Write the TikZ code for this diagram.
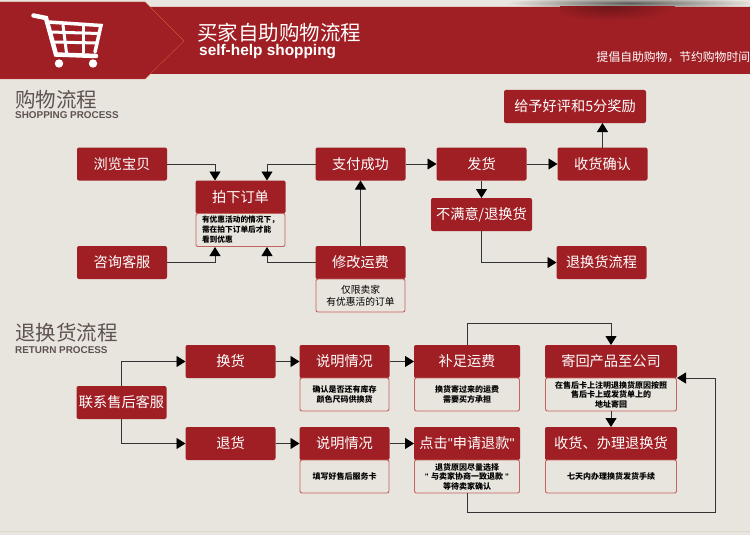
\documentclass[tikz,border=0pt]{standalone}
\usepackage{fontspec}
\setmainfont{Noto Sans CJK SC}
\newfontfamily\latinfont{Liberation Sans}
\usetikzlibrary{arrows.meta, positioning}
\definecolor{pagebg}{HTML}{E8E4DE}
\definecolor{bandred}{HTML}{A01F24}
\definecolor{noteedge}{HTML}{C4645E}
\definecolor{headgray}{HTML}{5F5350}
\definecolor{edgeorange}{HTML}{C8553A}
\definecolor{footline}{HTML}{DDD6CE}
\pgfdeclareradialshading{softgray}{\pgfpoint{0bp}{0bp}}{color(0bp)=(black!60!pagebg); color(25bp)=(pagebg); color(50bp)=(pagebg)}
\pgfdeclareradialshading{softred}{\pgfpoint{0bp}{0bp}}{color(0bp)=(bandred!70!black); color(25bp)=(bandred); color(50bp)=(bandred)}

\begin{document}
\begin{tikzpicture}[
  x=1pt, y=-1pt,
  box/.style={fill=bandred, rounded corners=2pt, minimum width=90pt, minimum height=33pt, inner sep=0pt, outer sep=0pt, align=center, text=white, font=\fontsize{14.2}{16}\selectfont},
  note/.style={draw=noteedge, line width=0.9pt, fill=pagebg, rounded corners=2pt, minimum width=89pt, minimum height=33pt, inner sep=0pt, outer sep=0pt, align=center, text=black, font=\bfseries\fontsize{8}{9.5}\selectfont},
  head/.style={inner sep=0pt, anchor=west, text=headgray, font=\fontsize{20.5}{22}\selectfont},
  subhead/.style={inner sep=0pt, anchor=west, text=headgray, font=\latinfont\bfseries\fontsize{9.9}{11}\selectfont},
  line/.style={draw=black!80, line width=0.9pt, -{Triangle[length=9pt, width=11pt, color=black]}},
  cart/.style={draw=white, line cap=round}
]
\useasboundingbox (0,0) rectangle (750,535);
\fill[pagebg] (0,0) rectangle (750,535);
\clip (0,0) rectangle (750,535);
\draw[footline] (0,531.5) -- (750,531.5);

\shade[shading=softgray] (630,3) ellipse (125 and 6);
\fill[bandred] (0,2) -- (145,2) -- (150,7) -- (750,7) -- (750,74) -- (150,74) -- (145,79) -- (0,79) -- cycle;
\begin{scope}
  \clip (560,7) rectangle (750,30);
  \shade[shading=softred] (610,7) ellipse (65 and 14);
\end{scope}
\draw[edgeorange, line width=0.4pt] (0,2) -- (145,2) -- (184,41) -- (145,79) -- (0,79);

\draw[cart, line width=4.5pt] (33.5,15.5) -- (46,18) -- (56,54.5) -- (96,56);
\draw[cart, line width=3.5pt] (48,22) -- (101,25.5) -- (95,52);
\draw[cart, line width=3pt] (50.5,32) -- (99,33.5);
\draw[cart, line width=3pt] (53,42) -- (97,43);
\draw[cart, line width=3pt] (63,25) -- (66.5,53);
\draw[cart, line width=3pt] (83,26.5) -- (83,53);
\fill[white] (59,63.5) circle (4.2);
\fill[white] (93,63.5) circle (4.2);

\node[inner sep=0pt, anchor=west, text=white, font=\fontsize{20.5}{22}\selectfont] (title) at (197,33) {买家自助购物流程};
\node[inner sep=0pt, anchor=west, text=white, font=\latinfont\bfseries\fontsize{15.4}{17}\selectfont] (titlelat) at (199,52) {self-help shopping};
\node[inner sep=0pt, anchor=west, text=white, font=\fontsize{11.8}{14}\selectfont] (slogan) at (596.5,57.5) {提倡自助购物，节约购物时间};

\node[head] (shophead) at (15,100) {购物流程};
\node[subhead] (shopsub) at (15,115) {SHOPPING PROCESS};
\node[head] (rethead) at (15,332.5) {退换货流程};
\node[subhead] (retsub) at (15,350) {RETURN PROCESS};

\node[box] (browse)  at (122,164) {浏览宝贝};
\node[box] (consult) at (122,262.5) {咨询客服};
\node[box] (buy)     at (240.5,197) {拍下订单};
\node[note, below=0pt of buy, align=left, font=\bfseries\fontsize{7.7}{10}\selectfont] (buynote) {有优惠活动的情况下，\\需在拍下订单后才能\\看到优惠};
\node[box] (pay)     at (360.5,164) {支付成功};
\node[box] (fee)     at (360.5,262.5) {修改运费};
\node[note, below=0pt of fee, font=\fontsize{9.75}{12}\selectfont] (feenote) {仅限卖家\\有优惠活的订单};
\node[box, right=31pt of pay]  (ship) {发货};
\node[box, right=31pt of ship] (recv) {收货确认};
\node[box, minimum width=142pt] (rate) at (575,106.5) {给予好评和5分奖励};
\node[box, minimum width=101pt] (unhappy) at (481.5,214.5) {不满意/退换货};
\node[box] (retproc) at (601.5,262.5) {退换货流程};

\node[box] (contact) at (121.5,402.5) {联系售后客服};
\node[box] (swap)    at (230.5,361.5) {换货};
\node[box, right=24pt of swap] (explswap) {说明情况};
\node[note, below=0pt of explswap] (explswapnote) {确认是否还有库存\\颜色尺码供换货};
\node[box, minimum width=106pt] (topup) at (467,361.5) {补足运费};
\node[note, minimum width=105pt, below=0pt of topup] (topupnote) {换货寄过来的运费\\需要买方承担};
\node[box, minimum width=132pt] (mail) at (611,361.5) {寄回产品至公司};
\node[note, minimum width=131pt, below=0pt of mail] (mailnote) {在售后卡上注明退换货原因按照\\售后卡上或发货单上的\\地址寄回};
\node[box] (refund)  at (230.5,443.5) {退货};
\node[box, right=24pt of refund] (explref) {说明情况};
\node[note, below=0pt of explref] (explrefnote) {填写好售后服务卡};
\node[box, minimum width=106pt] (click) at (467,443.5) {点击{\latinfont"}申请退款{\latinfont"}};
\node[note, minimum width=105pt, below=0pt of click] (clicknote) {退货原因尽量选择\\{\latinfont" }与卖家协商一致退款{\latinfont{} "}\\等待卖家确认};
\node[box, minimum width=132pt] (done) at (611,443.5) {收货、办理退换货};
\node[note, minimum width=131pt, below=0pt of done] (donenote) {七天内办理换货发货手续};

\coordinate (buyleft) at (215,180.5);
\coordinate (buyright) at (267,180.5);
\coordinate (noteleft) at (215,247);
\coordinate (noteright) at (267,247);
\coordinate (mailtop) at (611,323);
\coordinate (loopcorner) at (715,512);

\draw[line] (browse.east) -| (buyleft);
\draw[line] (pay.west) -| (buyright);
\draw[line] (consult.east) -| (noteleft);
\draw[line] (fee.west) -| (noteright);
\draw[line] (fee.north) -- (pay.south);
\draw[line] (pay) -- (ship);
\draw[line] (ship) -- (recv);
\draw[line] (recv.north) -- (recv.north |- rate.south);
\draw[line] (ship) -- (unhappy);
\draw[line] (unhappy.south) |- (retproc.west);

\draw[line] (contact.north) |- (swap.west);
\draw[line] (contact.south) |- (refund.west);
\draw[line] (swap) -- (explswap);
\draw[line] (explswap) -- (topup);
\draw[line] (refund) -- (explref);
\draw[line] (explref) -- (click);
\draw[line] (topup.north) |- (mailtop) -- (mail.north);
\draw[line] (mailnote.south) -- (done.north);
\draw[line] (clicknote.south) |- (loopcorner) |- (mail.south east);
\end{tikzpicture}
\end{document}
